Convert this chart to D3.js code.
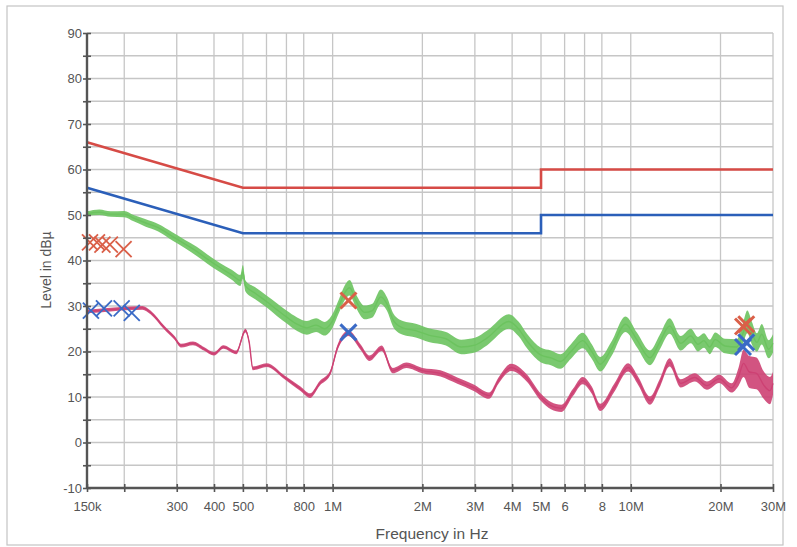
<!DOCTYPE html>
<html>
<head>
<meta charset="utf-8">
<script src="https://cdn.jsdelivr.net/npm/d3@7"></script>
<style>
  html, body { margin: 0; padding: 0; background: #fff; }
  #graph-container { width: 797px; height: 547px; }
  text { font-family: "Liberation Sans", Arial, sans-serif; fill: #555; }
</style>
</head>
<body>
<div id="graph-container"></div>
<script>
// limit lines (MHz / dBuV)
var limitFreq = [0.15, 0.5, 5, 5, 30];
var qpLimit = [66, 56, 56, 60, 60];
var avLimit = [56, 46, 46, 50, 50];

// peak scan (green)
var greenFreq = [0.15, 0.165, 0.18, 0.2, 0.215, 0.235, 0.26, 0.29, 0.32, 0.35, 0.38, 0.42, 0.46, 0.49, 0.5, 0.51,
  0.55, 0.6, 0.65, 0.7, 0.76, 0.82, 0.88, 0.94, 1.0, 1.05, 1.1, 1.14, 1.2, 1.28, 1.36, 1.45, 1.52, 1.6, 1.72,
  1.9, 2.1, 2.4, 2.7, 3.0, 3.3, 3.9, 4.2, 4.5, 5.0, 5.4, 5.8, 6.3, 6.9, 7.4, 7.9, 8.6, 9.6, 10.5, 11.6, 12.5,
  13.5, 14.7, 15.9, 16.8, 17.6, 18.4, 19.2, 20.7, 22.7, 23.8, 24.6, 25.5, 26.5, 27.5, 29.0, 30.0];
var greenVal = [50.3, 50.6, 50.2, 50.2, 49.3, 48.3, 47.2, 45.3, 43.6, 42.0, 40.3, 38.4, 36.8, 35.6, 37.5, 34.4,
  32.8, 31.0, 29.2, 27.6, 26.0, 25.2, 25.8, 25.0, 26.8, 30.0, 33.0, 34.0, 31.0, 28.6, 29.0, 32.0, 30.5, 26.8, 25.2,
  24.6, 23.6, 22.8, 21.0, 21.4, 23.0, 26.6, 25.0, 22.2, 19.2, 18.6, 17.8, 20.0, 22.4, 20.0, 17.2, 20.5, 26.0, 22.5, 18.6, 22.0,
  25.6, 21.8, 23.4, 21.6, 22.4, 21.0, 22.6, 21.2, 21.0, 24.0, 26.5, 24.0, 22.0, 23.8, 20.5, 21.8];
var greenSpread = [1.0, 1.2, 1.2, 1.4, 1.4, 1.6, 1.6, 1.8, 1.8, 2.0, 2.0, 2.0, 2.2, 2.4, 3.0, 2.4,
  2.6, 2.6, 2.8, 2.8, 3.0, 3.0, 3.0, 3.0, 3.0, 3.0, 3.2, 3.4, 3.0, 3.0, 3.0, 3.2, 3.0, 3.0, 3.0,
  3.0, 3.0, 3.0, 3.2, 3.2, 3.2, 3.2, 3.2, 3.2, 3.2, 3.2, 3.2, 3.2, 3.4, 3.2, 3.2, 3.2, 3.4, 3.2, 3.2, 3.2,
  3.4, 3.2, 3.2, 3.2, 3.2, 3.2, 3.2, 3.2, 3.4, 4.5, 5.0, 5.0, 4.0, 4.5, 4.0, 4.0];

// average scan (pink)
var pinkFreq = [0.15, 0.18, 0.21, 0.23, 0.245, 0.272, 0.295, 0.31, 0.34, 0.37, 0.4, 0.43, 0.475, 0.51, 0.525, 0.54,
  0.6, 0.69, 0.78, 0.84, 0.905, 0.98, 1.04, 1.13, 1.24, 1.33, 1.46, 1.59, 1.77, 2.0, 2.3, 2.62, 2.96, 3.35, 3.6,
  3.97, 4.46, 5.0, 5.4, 5.85, 6.4, 6.9, 7.4, 7.9, 8.8, 9.8, 10.6, 11.6, 12.5, 13.5, 14.7, 16.4, 18.0, 19.8, 21.8,
  23.0, 23.9, 25.0, 26.4, 28.0, 29.3, 30.0];
var pinkVal = [28.8, 29.2, 29.5, 29.6, 28.6, 25.3, 23.0, 21.3, 21.8, 20.6, 19.5, 21.0, 19.8, 24.6, 22.0, 16.3,
  17.0, 14.3, 11.8, 10.3, 13.0, 15.2, 21.0, 24.0, 21.0, 18.5, 20.7, 15.8, 17.0, 15.8, 15.2, 13.6, 12.1, 10.3, 13.6,
  16.5, 14.3, 9.9, 8.1, 7.5, 11.0, 13.6, 11.5, 7.7, 12.0, 16.5, 13.5, 9.2, 13.0, 17.6, 13.0, 14.3, 12.5, 14.0, 12.0,
  14.5, 17.4, 15.5, 15.2, 12.5, 11.4, 13.0];
var pinkSpread = [0.8, 0.8, 0.8, 0.8, 0.8, 0.8, 0.8, 0.8, 0.8, 0.8, 0.8, 0.8, 0.8, 0.8, 0.8, 0.8,
  0.8, 0.8, 1.0, 1.0, 1.0, 1.0, 1.2, 1.2, 1.2, 1.2, 1.2, 1.2, 1.2, 1.2, 1.4, 1.4, 1.4, 1.4, 1.4,
  1.6, 1.6, 1.6, 1.6, 1.6, 1.6, 1.6, 1.6, 1.6, 1.8, 1.8, 1.8, 1.8, 1.8, 1.8, 1.8, 1.8, 1.8, 1.8, 2.0,
  4.0, 6.0, 7.0, 7.0, 6.0, 6.0, 5.0];

// final measurement markers
var qpMarkFreq = [0.1535, 0.162, 0.169, 0.179, 0.199, 1.13, 23.8, 24.4];
var qpMarkVal = [44.0, 44.0, 43.5, 43.5, 42.5, 31.2, 25.5, 26.0];
var avMarkFreq = [0.1546, 0.171, 0.196, 0.212, 1.13, 23.8, 24.4];
var avMarkVal = [29.0, 29.5, 29.5, 28.5, 24.2, 21.0, 22.0];

// axis ticks
var xTicks = [0.15, 0.2, 0.3, 0.4, 0.5, 0.6, 0.7, 0.8, 1, 2, 3, 4, 5, 6, 7, 8, 10, 20, 30];
var xTickLabels = ["150k", "", "300", "400", "500", "", "", "800", "1M", "2M", "3M", "4M", "5M", "6", "", "8", "10M", "20M", "30M"];
var yTicks = [-10, 0, 10, 20, 30, 40, 50, 60, 70, 80, 90];
var yGrid = d3.range(-10, 91, 5);

var width = 797, height = 547;
var plotL = 87, plotR = 773, plotT = 33, plotB = 488;

var svg = d3.select("#graph-container").append("svg")
    .attr("width", width)
    .attr("height", height);

svg.append("rect")
    .attr("width", width).attr("height", height)
    .attr("fill", "#fff");

// outer frame
svg.append("rect")
    .attr("x", 7).attr("y", 6)
    .attr("width", 776).attr("height", 539)
    .attr("fill", "none")
    .attr("stroke", "#c4c4c4")
    .attr("stroke-width", 1.2);

var x = d3.scaleLog().domain([0.15, 30]).range([plotL, plotR]);
var y = d3.scaleLinear().domain([-10, 90]).range([plotB, plotT]);

/* grid */
var grid = svg.append("g").attr("class", "grid");
grid.selectAll("line.v")
    .data(xTicks)
    .enter().append("line")
    .attr("class", "v")
    .attr("x1", function (d) { return x(d); })
    .attr("x2", function (d) { return x(d); })
    .attr("y1", plotT).attr("y2", plotB)
    .attr("stroke", "#c6c6c6")
    .attr("stroke-width", 1.3);
grid.selectAll("line.h")
    .data(yGrid)
    .enter().append("line")
    .attr("class", "h")
    .attr("x1", plotL).attr("x2", plotR)
    .attr("y1", function (d) { return y(d); })
    .attr("y2", function (d) { return y(d); })
    .attr("stroke", "#c6c6c6")
    .attr("stroke-width", 1.3);

/* limit lines */
function limitLine(vals) {
    return d3.line()
        .x(function (d, i) { return x(limitFreq[i]); })
        .y(function (d) { return y(d); })(vals);
}
svg.append("path")
    .attr("d", limitLine(qpLimit))
    .attr("fill", "none")
    .attr("stroke", "#d64b46")
    .attr("stroke-width", 2.6);
svg.append("path")
    .attr("d", limitLine(avLimit))
    .attr("fill", "none")
    .attr("stroke", "#2b5fb9")
    .attr("stroke-width", 2.6);

/* traces: band + centre line */
function drawTrace(freqs, vals, spread, color) {
    var idx = d3.range(freqs.length);
    var area = d3.area()
        .curve(d3.curveMonotoneX)
        .x(function (i) { return x(freqs[i]); })
        .y0(function (i) { return y(vals[i] - spread[i] / 2); })
        .y1(function (i) { return y(vals[i] + spread[i] / 2); });
    svg.append("path")
        .datum(idx)
        .attr("d", area)
        .attr("fill", color)
        .attr("opacity", 0.9);
    var line = d3.line()
        .curve(d3.curveMonotoneX)
        .x(function (i) { return x(freqs[i]); })
        .y(function (i) { return y(vals[i]); });
    svg.append("path")
        .datum(idx)
        .attr("d", line)
        .attr("fill", "none")
        .attr("stroke", color)
        .attr("stroke-width", 1.4);
}
drawTrace(greenFreq, greenVal, greenSpread, "#6cc35f");
drawTrace(pinkFreq, pinkVal, pinkSpread, "#cd4173");

/* markers */
function drawMarks(freqs, vals, color) {
    var s = 8;
    var g = svg.append("g");
    freqs.forEach(function (f, i) {
        var cx = x(f), cy = y(vals[i]);
        // markers above 1 MHz are drawn heavier in the original
        var w = f >= 1 ? 3 : 1.8;
        g.append("line")
            .attr("x1", cx - s).attr("y1", cy - s)
            .attr("x2", cx + s).attr("y2", cy + s)
            .attr("stroke-width", w);
        g.append("line")
            .attr("x1", cx - s).attr("y1", cy + s)
            .attr("x2", cx + s).attr("y2", cy - s)
            .attr("stroke-width", w);
    });
    g.selectAll("line")
        .attr("stroke", color);
}
drawMarks(qpMarkFreq, qpMarkVal, "#da5f48");
drawMarks(avMarkFreq, avMarkVal, "#3a6ac6");

/* axes */
var xAxis = svg.append("g")
    .attr("transform", "translate(0," + plotB + ")")
    .call(d3.axisBottom(x)
        .tickValues(xTicks)
        .tickFormat(function (d, i) { return xTickLabels[i]; })
        .tickSize(4));
xAxis.select(".domain")
    .attr("d", "M" + plotL + ",0H" + plotR)
    .attr("stroke", "#555").attr("stroke-width", 2.4);
xAxis.selectAll(".tick line")
    .attr("y1", -4).attr("y2", 4)
    .attr("stroke", "#555").attr("stroke-width", 1.6);
xAxis.selectAll(".tick text")
    .attr("y", 14).attr("dy", "0.71em")
    .style("font-size", "13px")
    .style("fill", "#555");

var yAxis = svg.append("g")
    .attr("transform", "translate(" + plotL + ",0)")
    .call(d3.axisLeft(y)
        .tickValues(yGrid)
        .tickFormat(function (d) { return yTicks.indexOf(d) >= 0 ? d : ""; })
        .tickSize(4));
yAxis.select(".domain")
    .attr("d", "M0," + plotT + "V" + plotB)
    .attr("stroke", "#555").attr("stroke-width", 2.4);
yAxis.selectAll(".tick line")
    .attr("x1", -4).attr("x2", 4)
    .attr("stroke", "#555").attr("stroke-width", 1.6);
yAxis.selectAll(".tick text")
    .attr("x", -5)
    .style("font-size", "13px")
    .style("fill", "#555");

/* axis titles */
svg.append("text")
    .attr("x", 432).attr("y", 539)
    .attr("text-anchor", "middle")
    .style("font-size", "15.5px")
    .text("Frequency in Hz");
svg.append("text")
    .attr("transform", "translate(51,270)rotate(-90)")
    .attr("text-anchor", "middle")
    .style("font-size", "14px")
    .text("Level in dBµ");
</script>
</body>
</html>
